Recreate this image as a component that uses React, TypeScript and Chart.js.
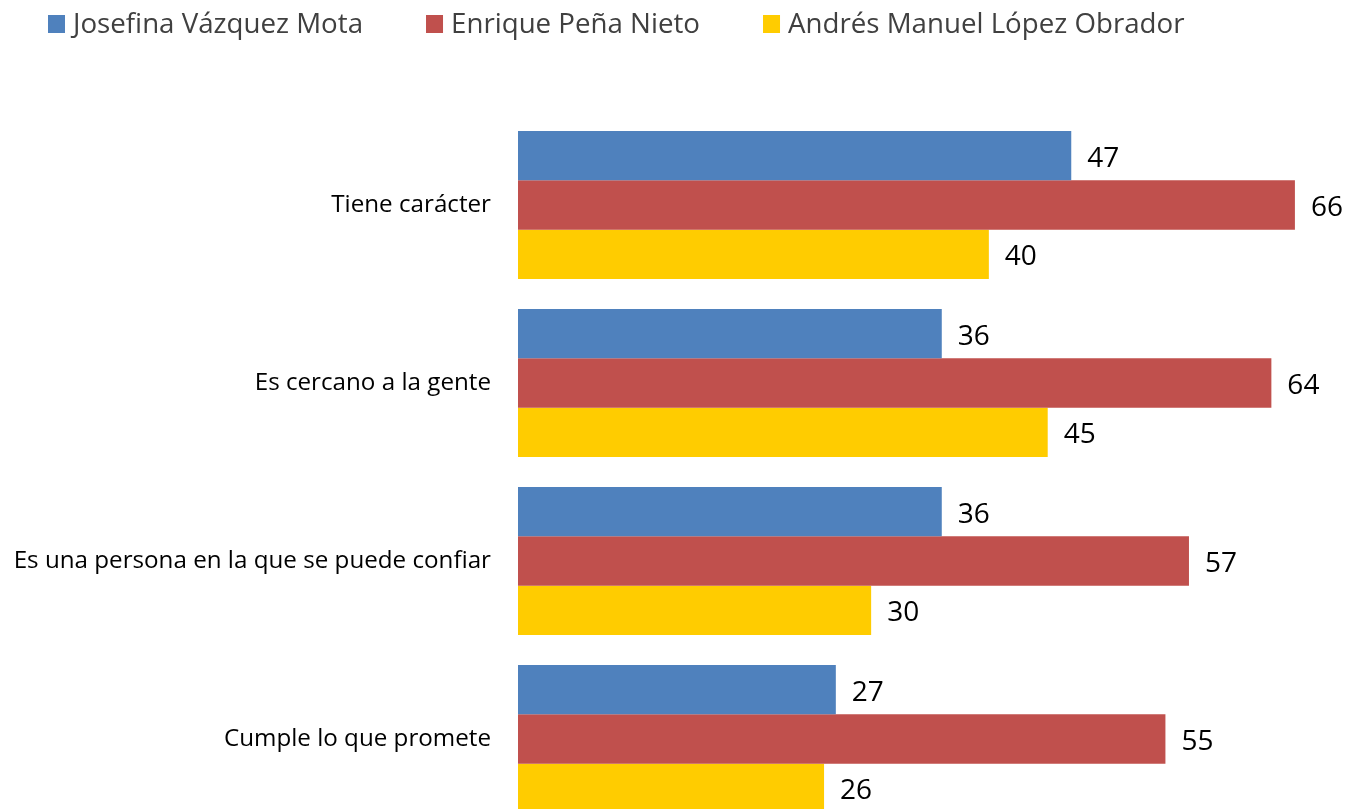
import React, { useEffect, useRef } from "react";
import { Chart, registerables } from "chart.js";

Chart.register(...registerables);

// ---- Data ----
const categories = [
  "Tiene carácter",
  "Es cercano a la gente",
  "Es una persona en la que se puede confiar",
  "Cumple lo que promete",
];
const seriesNames = [
  "Josefina Vázquez Mota",
  "Enrique Peña Nieto",
  "Andrés Manuel López Obrador",
];
const josefinaValues = [47, 36, 36, 27];
const enriqueValues = [66, 64, 57, 55];
const andresValues = [40, 45, 30, 26];
const axisMin = 0;
const axisMax = 70;

// ---- Styles ----
const seriesColors = ["#4F81BD", "#C0504D", "#FFCC00"];
const FONT = "'Open Sans'";

const valueLabelPlugin = {
  id: "valueLabels",
  afterDatasetsDraw(chart: any) {
    const ctx = chart.ctx;
    ctx.save();
    ctx.font = `28px ${FONT}`;
    ctx.fillStyle = "#000000";
    ctx.textAlign = "left";
    ctx.textBaseline = "alphabetic";
    chart.data.datasets.forEach((ds: any, i: number) => {
      const meta = chart.getDatasetMeta(i);
      meta.data.forEach((el: any, j: number) => {
        ctx.fillText(String(ds.data[j]), el.x + 16, el.y + 11);
      });
    });
    ctx.restore();
  },
};

const topLegendPlugin = {
  id: "topLegend",
  afterDraw(chart: any) {
    const ctx = chart.ctx;
    ctx.save();
    ctx.font = `27.7px ${FONT}`;
    ctx.textAlign = "left";
    ctx.textBaseline = "alphabetic";
    let x = 48;
    chart.data.datasets.forEach((ds: any) => {
      ctx.fillStyle = ds.backgroundColor;
      ctx.fillRect(x, 15, 17, 18);
      ctx.fillStyle = "#404040";
      ctx.fillText(ds.label, x + 25, 33);
      x += 25 + ctx.measureText(ds.label).width + 63;
    });
    ctx.restore();
  },
};

export default function App() {
  const canvasRef = useRef<HTMLCanvasElement | null>(null);

  useEffect(() => {
    if (!canvasRef.current) return;
    const seriesValues = [josefinaValues, enriqueValues, andresValues];
    const chart = new Chart(canvasRef.current, {
      type: "bar",
      data: {
        labels: categories,
        datasets: seriesNames.map((name, i) => ({
          label: name,
          data: seriesValues[i],
          backgroundColor: seriesColors[i],
          borderWidth: 0,
          barPercentage: 1,
          categoryPercentage: 0.831,
        })),
      },
      options: {
        indexAxis: "y",
        responsive: false,
        maintainAspectRatio: false,
        animation: false,
        events: [],
        layout: { padding: { top: 116, bottom: 12, left: 0, right: 7 } },
        plugins: {
          legend: { display: false },
          tooltip: { enabled: false },
          title: { display: false },
        },
        scales: {
          x: {
            display: false,
            min: axisMin,
            max: axisMax,
          },
          y: {
            grid: { display: false, drawTicks: false },
            border: { display: false },
            ticks: {
              color: "#000000",
              padding: 27,
              font: { family: FONT, size: 24.2 },
            },
            afterFit(scale: any) {
              scale.width = 518;
              scale.paddingTop = 0;
              scale.paddingBottom = 0;
            },
          },
        },
      },
      plugins: [valueLabelPlugin, topLegendPlugin],
    } as any);
    return () => chart.destroy();
  }, []);

  return (
    <div
      style={{
        position: "fixed",
        left: 0,
        top: 0,
        width: 1349,
        height: 809,
        overflow: "hidden",
        background: "#ffffff",
      }}
    >
      <div style={{ position: "relative", width: 1349, height: 840 }}>
        <canvas
          ref={canvasRef}
          width={1349}
          height={840}
          style={{ display: "block", width: 1349, height: 840 }}
        />
      </div>
    </div>
  );
}
